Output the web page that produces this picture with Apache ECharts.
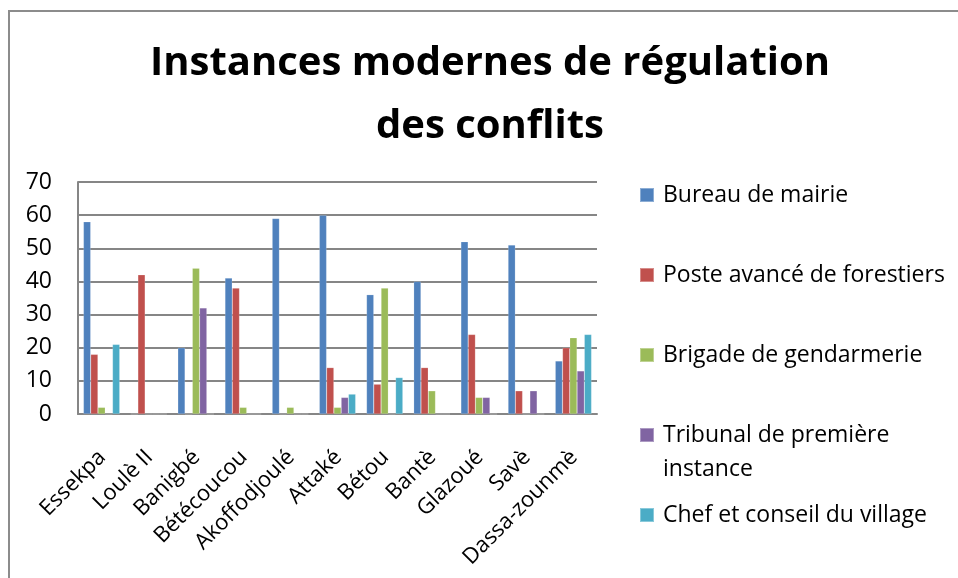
<!DOCTYPE html>
<html>
<head>
<meta charset="utf-8">
<script src="https://cdn.jsdelivr.net/npm/echarts@6/dist/echarts.min.js"></script>
<style>html,body{margin:0;padding:0;background:#fff;}#c{width:958px;height:578px;}</style>
</head>
<body>
<div id="c"></div>
<script>
const categories = ['Essekpa','Loulè II','Banigbé','Bétécoucou','Akoffodjoulé','Attaké','Bétou','Bantè','Glazoué','Savè','Dassa-zounmè'];
const seriesNames = ['Bureau de mairie','Poste avancé de forestiers','Brigade de gendarmerie','Tribunal de première instance','Chef et conseil du village'];
const bureauMairie = [58, 0, 20, 41, 59, 60, 36, 40, 52, 51, 16];
const posteForestiers = [18, 42, 0, 38, 0, 14, 9, 14, 24, 7, 20];
const brigadeGendarmerie = [2, 0, 44, 2, 2, 2, 38, 7, 5, 0, 23];
const tribunal = [0, 0, 32, 0, 0, 5, 0, 0, 5, 7, 13];
const chefVillage = [21, 0, 0, 0, 0, 6, 11, 0, 0, 0, 24];
const colors = ['#4F81BD','#C0504D','#9BBB59','#8064A2','#4BACC6'];
const titleText = 'Instances modernes de régulation\ndes conflits';

const FONT = 'Open Sans';
const values = [bureauMairie, posteForestiers, brigadeGendarmerie, tribunal, chefVillage];
const chart = echarts.init(document.getElementById('c'), null, {renderer: 'canvas'});

const legendTops = [183, 263, 343, 384, 503];
const legends = seriesNames.map((n, i) => ({
  show: true,
  orient: 'vertical',
  left: 639,
  top: legendTops[i],
  padding: 0,
  itemWidth: 14,
  itemHeight: 14,
  icon: 'rect',
  data: [n],
  formatter: i === 3 ? ' \nTribunal de première\ninstance' : n,
  textStyle: i === 3
    ? {fontFamily: FONT, fontSize: 23, color: '#000', lineHeight: 34, padding: [0, 0, 0, 4]}
    : {fontFamily: FONT, fontSize: 23, color: '#000', lineHeight: 24, padding: [0, 0, 0, 4]}
}));

chart.setOption({
  animation: false,
  color: colors,
  title: {
    text: titleText,
    left: 490,
    top: 32,
    textAlign: 'center',
    padding: 0,
    textStyle: {fontFamily: FONT, fontWeight: 'bold', fontSize: 40, lineHeight: 63, color: '#000'}
  },
  legend: legends,
  graphic: [{
    type: 'rect',
    shape: {x: 9, y: 11, width: 2000, height: 2000},
    style: {fill: 'none', stroke: '#8c8c8c', lineWidth: 2},
    silent: true
  }],
  grid: {left: 78, right: 361, top: 182, bottom: 164, containLabel: false, outerBoundsMode: 'none'},
  xAxis: {
    type: 'category',
    data: categories,
    axisLine: {lineStyle: {color: '#868686', width: 2}},
    axisTick: {show: false},
    axisLabel: {rotate: 45, interval: 0, margin: 8, verticalAlign: 'top', lineHeight: 46, padding: [0, 22, 0, 0],
      fontFamily: FONT, fontSize: 22, color: '#000'}
  },
  yAxis: {
    type: 'value',
    min: 0, max: 70, interval: 10,
    axisLine: {show: true, lineStyle: {color: '#868686', width: 2}},
    axisTick: {show: false},
    splitLine: {lineStyle: {color: '#868686', width: 2}},
    axisLabel: {margin: 26, fontFamily: FONT, fontSize: 23, color: '#000'}
  },
  series: seriesNames.map((n, i) => ({
    name: n,
    type: 'bar',
    data: values[i],
    barGap: '0%',
    barCategoryGap: '23%',
    itemStyle: {color: colors[i], borderColor: 'rgba(255,255,255,0.35)', borderWidth: 0.5}
  }))
});
</script>
</body>
</html>
